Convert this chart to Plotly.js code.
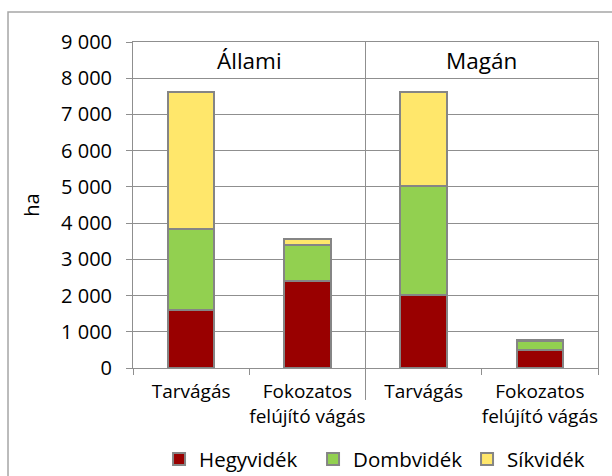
<!DOCTYPE html>
<html>
<head>
<meta charset="utf-8">
<script src="https://cdn.plot.ly/plotly-3.0.1.min.js"></script>
<style>
html,body{margin:0;padding:0;background:#fff;}
#chart{width:612px;height:476px;}
</style>
</head>
<body>
<div id="chart"></div>
<script>
// Data
const groups = ["Állami", "Magán"];
const methods = ["Tarvágás", "Fokozatos<br>felújító vágás"];
const seriesNames = ["Hegyvidék", "Dombvidék", "Síkvidék"];
const hegyvidek = [1600, 2410, 2020, 505];
const dombvidek = [2250, 980, 2995, 245];
const sikvidek  = [3770, 180, 2595, 10];
const yTickVals = [0, 1000, 2000, 3000, 4000, 5000, 6000, 7000, 8000, 9000];

const colors = ["#990000", "#92D050", "#FFE76B"];
const xKeys = [];
const xText = [];
groups.forEach(g => methods.forEach(m => { xKeys.push(g + " | " + m); xText.push(m); }));

const values = [hegyvidek, dombvidek, sikvidek];
const traces = seriesNames.map((name, i) => ({
  type: "bar",
  name: name,
  x: xKeys,
  y: values[i],
  marker: {color: colors[i], line: {color: "#858585", width: 2}},
  hoverinfo: "skip"
}));

const gridCol = "#8f8f8f";
const font = {family: "Open Sans, sans-serif", color: "#000"};

const layout = {
  width: 612, height: 476,
  margin: {l: 133, r: 14, t: 42, b: 108, autoexpand: false},
  paper_bgcolor: "#fff", plot_bgcolor: "#fff",
  barmode: "stack",
  bargap: 0.6,
  separators: ", ",
  font: Object.assign({size: 19}, font),
  showlegend: true,
  legend: {
    orientation: "h", x: 0.056, xanchor: "left", y: -0.28, yanchor: "middle",
    entrywidth: 109, entrywidthmode: "pixels",
    font: Object.assign({size: 20.5}, font), traceorder: "normal"
  },
  xaxis: {
    type: "category", automargin: false, tickangle: 0,
    tickmode: "array", tickvals: xKeys, ticktext: xText,
    tickson: "boundaries", ticks: "outside", ticklen: 6, tickcolor: gridCol, tickwidth: 1,
    ticklabelstandoff: 6,
    showline: true, linecolor: gridCol, linewidth: 1, mirror: true,
    showgrid: false,
    tickfont: Object.assign({size: 19}, font),
    fixedrange: true
  },
  yaxis: {
    range: [0, 9000], automargin: false,
    tickmode: "array", tickvals: yTickVals,
    separatethousands: true,
    ticks: "outside", ticklen: 6, tickcolor: gridCol, tickwidth: 1,
    ticklabelstandoff: 10,
    showline: true, linecolor: gridCol, linewidth: 1, mirror: true,
    showgrid: true, gridcolor: gridCol, gridwidth: 1,
    zeroline: false,
    tickfont: Object.assign({size: 20}, font),
    title: {text: "ha", font: Object.assign({size: 20}, font), standoff: 16},
    fixedrange: true
  },
  annotations: groups.map((g, i) => ({
    text: g, xref: "paper", yref: "y", x: 0.25 + 0.5 * i, y: 8480,
    xanchor: "center", yanchor: "middle",
    showarrow: false, font: Object.assign({size: 22.5}, font)
  })),
  shapes: [
    {type: "line", xref: "paper", yref: "paper", x0: 0.5, x1: 0.5, y0: 1, y1: -0.098,
     line: {color: gridCol, width: 1}},
    {type: "rect", xref: "paper", yref: "paper", x0: -0.2688, x1: 1.2, y0: -0.6, y1: 1.092,
     line: {color: "#a6a6a6", width: 1.5}, fillcolor: "rgba(0,0,0,0)", layer: "below"}
  ]
};

Plotly.newPlot("chart", traces, layout, {displayModeBar: false, staticPlot: true});
</script>
</body>
</html>
